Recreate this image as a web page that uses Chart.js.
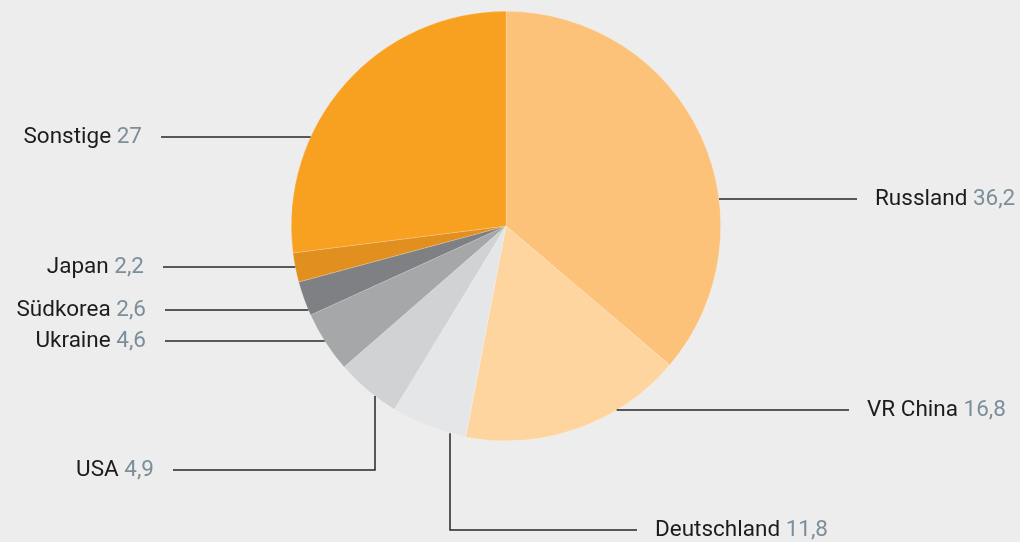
<!DOCTYPE html>
<html>
<head>
<meta charset="utf-8">
<script src="https://cdn.jsdelivr.net/npm/chart.js@4/dist/chart.umd.min.js"></script>
<style>
  html, body { margin: 0; padding: 0; background: #ededed; }
  #wrap { width: 1020px; height: 542px; position: relative; }
</style>
</head>
<body>
<div id="wrap"><canvas id="pie"></canvas></div>
<script>
// Länder und Anteile
const countries = ['Russland', 'VR China', 'Deutschland', 'USA', 'Ukraine', 'Südkorea', 'Japan', 'Sonstige'];
// Beschriftete Werte
const valueLabels = ['36,2', '16,8', '11,8', '4,9', '4,6', '2,6', '2,2', '27'];
// Gezeichnete Segmentgrößen (wie im Bild; Deutschland ist kleiner gezeichnet als beschriftet)
const shares = [36.2, 16.8, 5.7, 4.9, 4.6, 2.6, 2.2, 27];
const sliceColors = ['#fdc279', '#fed59f', '#e5e6e7', '#d1d2d3', '#a6a7a9', '#7f8083', '#e18f1e', '#f8a01f'];

// Lage der Beschriftungen relativ zum Kreismittelpunkt
const labelLayout = [
    { dy: -27, ex: 351, side: 'right' },
    { dy: 184, ex: 343, side: 'right' },
    { vx: -56, dy: 304, ex: 131, side: 'right' },
    { vx: -131, dy: 244, ex: -333, side: 'left' },
    { dy: 115, ex: -341, side: 'left' },
    { dy: 84, ex: -341, side: 'left' },
    { dy: 41, ex: -343, side: 'left' },
    { dy: -89, ex: -345, side: 'left' }
];

const leaderLabels = {
    id: 'leaderLabels',
    afterDraw(chart) {
        const arc = chart.getDatasetMeta(0).data[0];
        if (!arc) return;
        const cx = arc.x, cy = arc.y, r = arc.outerRadius;
        const ctx = chart.ctx;
        ctx.save();
        ctx.strokeStyle = '#262626';
        ctx.lineWidth = 1.5;
        ctx.font = '22.5px Roboto';
        ctx.textBaseline = 'middle';
        labelLayout.forEach((l, i) => {
            const ly = cy + l.dy;
            const endX = cx + l.ex;
            ctx.beginPath();
            if (l.vx !== undefined) {
                const vx = cx + l.vx;
                const edgeY = cy + Math.sqrt(r * r - l.vx * l.vx);
                ctx.moveTo(vx, edgeY);
                ctx.lineTo(vx, ly);
                ctx.lineTo(endX, ly);
            } else {
                const edgeX = cx + Math.sign(l.ex) * Math.sqrt(r * r - l.dy * l.dy);
                ctx.moveTo(edgeX, ly);
                ctx.lineTo(endX, ly);
            }
            ctx.stroke();

            const name = countries[i] + ' ';
            const val = valueLabels[i];
            const wName = ctx.measureText(name).width;
            const wVal = ctx.measureText(val).width;
            let tx = l.side === 'right' ? endX + 18 : endX - 19 - wName - wVal;
            const ty = ly;
            ctx.textAlign = 'left';
            ctx.fillStyle = '#1c1c1c';
            ctx.fillText(name, tx, ty);
            ctx.fillStyle = '#7b8e99';
            ctx.fillText(val, tx + wName, ty);
        });
        ctx.restore();
    }
};

new Chart(document.getElementById('pie').getContext('2d'), {
    type: 'pie',
    data: {
        labels: countries,
        datasets: [{
            data: shares,
            backgroundColor: sliceColors,
            borderColor: 'rgba(255,255,255,0.3)',
            borderWidth: 0.6
        }]
    },
    options: {
        responsive: true,
        maintainAspectRatio: false,
        animation: false,
        layout: {
            padding: { left: 291, right: 299, top: 11, bottom: 101 }
        },
        plugins: {
            legend: { display: false },
            tooltip: { enabled: false }
        }
    },
    plugins: [leaderLabels]
});
</script>
</body>
</html>
